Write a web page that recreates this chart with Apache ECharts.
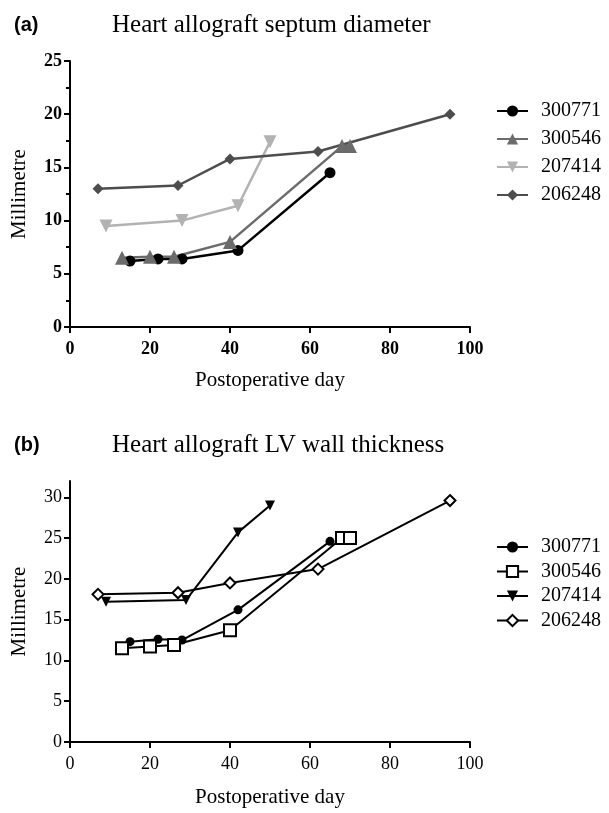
<!DOCTYPE html>
<html>
<head>
<meta charset="UTF-8">
<title>Heart allograft</title>
<script src="https://cdn.jsdelivr.net/npm/echarts@6/dist/echarts.min.js"></script>
<style>
body { margin: 0; background: #fff; }
#chart-a { width: 609px; height: 400px; }
#chart-b { width: 609px; height: 413px; }
</style>
</head>
<body>
<div id="chart-a"></div>
<div id="chart-b"></div>
<script>
// animal ids
var names = ['300771', '300546', '207414', '206248'];

// (a) septum diameter, [postoperative day, mm]
var septum300771 = [[15, 6.2], [22, 6.4], [28, 6.4], [42, 7.2], [65, 14.5]];
var septum300546 = [[13, 6.5], [20, 6.6], [26, 6.6], [40, 8.0], [68, 17.0], [70, 17.0]];
var septum207414 = [[9, 9.5], [28, 10.0], [42, 11.4], [50, 17.4]];
var septum206248 = [[7, 13.0], [27, 13.3], [40, 15.8], [62, 16.5], [95, 20.0]];

// (b) LV wall thickness
var wall300771 = [[15, 12.3], [22, 12.6], [28, 12.5], [42, 16.2], [65, 24.6]];
var wall300546 = [[13, 11.5], [20, 11.7], [26, 11.9], [40, 13.7], [68, 25.0], [70, 25.0]];
var wall207414 = [[9, 17.2], [29, 17.4], [42, 25.7], [50, 29.0]];
var wall206248 = [[7, 18.1], [27, 18.3], [40, 19.5], [62, 21.2], [95, 29.6]];

var yTicksB = [0, 5, 10, 15, 20, 25, 30];

var serif = 'Liberation Serif';

function baseX(bold, gap) {
    return {
        type: 'value', min: 0, max: 100, interval: 20,
        name: 'Postoperative day', nameLocation: 'middle', nameGap: gap,
        nameTextStyle: { fontFamily: serif, fontSize: 21, color: '#000' },
        axisLine: { show: true, onZero: false, lineStyle: { color: '#000', width: 2 } },
        axisTick: { show: true, length: 6, lineStyle: { color: '#000', width: 2 } },
        axisLabel: { fontFamily: serif, fontSize: 18, color: '#000', fontWeight: bold ? 'bold' : 'normal', margin: 13 },
        splitLine: { show: false }
    };
}

function baseY(bold) {
    return {
        type: 'value', min: 0,
        name: 'Millimetre', nameLocation: 'middle', nameGap: 40,
        nameTextStyle: { fontFamily: serif, fontSize: 21, color: '#000' },
        axisLine: { show: true, lineStyle: { color: '#000', width: 2 } },
        axisTick: { show: true, length: 6, lineStyle: { color: '#000', width: 2 } },
        axisLabel: { fontFamily: serif, fontSize: 18, fontWeight: bold ? 'bold' : 'normal', color: '#000', margin: 8 },
        splitLine: { show: false }
    };
}

function titles(tag, text, top) {
    return [
        { text: tag, left: 9, top: top, textStyle: { fontFamily: 'Liberation Sans', fontSize: 20, fontWeight: 'bold', color: '#000' } },
        { text: text, left: 107, top: top - 2, textStyle: { fontFamily: serif, fontSize: 25, fontWeight: 'normal', color: '#000' } }
    ];
}

function legend(top, gap) {
    return {
        orient: 'vertical', left: 491, top: top,
        itemWidth: 31, itemHeight: 14, itemGap: gap,
        data: names,
        textStyle: { fontFamily: serif, fontSize: 20, color: '#000', padding: [0, 0, 0, 8] }
    };
}

// ---------- (a) ----------
var chartA = echarts.init(document.getElementById('chart-a'), null, { renderer: 'canvas' });
var greysA = ['#000000', '#6b6b6b', '#b2b2b2', '#4d4d4d'];
var dataA = [septum300771, septum300546, septum207414, septum206248];
var symA = [
    { symbol: 'circle', size: 11, rot: 0 },
    { symbol: 'triangle', size: 14, rot: 0 },
    { symbol: 'triangle', size: 13, rot: 180 },
    { symbol: 'diamond', size: 11, rot: 0 }
];
var yA = baseY(true);
yA.max = 25;
yA.interval = 5;
yA.minorTick = { show: true, splitNumber: 2, length: 4, lineStyle: { color: '#000', width: 2 } };
chartA.setOption({
    animation: false,
    title: titles('(a)', 'Heart allograft septum diameter', 10),
    legend: legend(96, 8),
    grid: { left: 70, top: 61, width: 400, height: 266 },
    xAxis: baseX(true, 43),
    yAxis: yA,
    series: names.map(function (n, i) {
        return {
            name: n, type: 'line', data: dataA[i],
            symbol: symA[i].symbol, symbolSize: symA[i].size, symbolRotate: symA[i].rot,
            showAllSymbol: true,
            lineStyle: { color: greysA[i], width: 2.5 },
            itemStyle: { color: greysA[i], borderWidth: 0 }
        };
    })
});

// ---------- (b) ----------
var chartB = echarts.init(document.getElementById('chart-b'), null, { renderer: 'canvas' });
var dataB = [wall300771, wall300546, wall207414, wall206248];
var symB = [
    { symbol: 'circle', size: 9, rot: 0, fill: '#000' },
    { symbol: 'rect', size: 12, rot: 0, fill: '#fff' },
    { symbol: 'triangle', size: 10, rot: 180, fill: '#000' },
    { symbol: 'diamond', size: 11, rot: 0, fill: '#fff' }
];
var yB = baseY(false);
yB.max = 32;
yB.axisTick.customValues = yTicksB;
yB.axisLabel.customValues = yTicksB;
chartB.setOption({
    animation: false,
    title: titles('(b)', 'Heart allograft LV wall thickness', 30),
    legend: legend(132, 4.5),
    grid: { left: 70, top: 81, width: 400, height: 267 },
    xAxis: baseX(false, 45),
    yAxis: yB,
    series: names.map(function (n, i) {
        return {
            name: n, type: 'line', data: dataB[i],
            symbol: symB[i].symbol, symbolSize: symB[i].size, symbolRotate: symB[i].rot,
            showAllSymbol: true,
            lineStyle: { color: '#000', width: 2 },
            itemStyle: { color: symB[i].fill, borderColor: '#000', borderWidth: symB[i].fill === '#fff' ? 2 : 0 }
        };
    })
});
</script>
</body>
</html>
